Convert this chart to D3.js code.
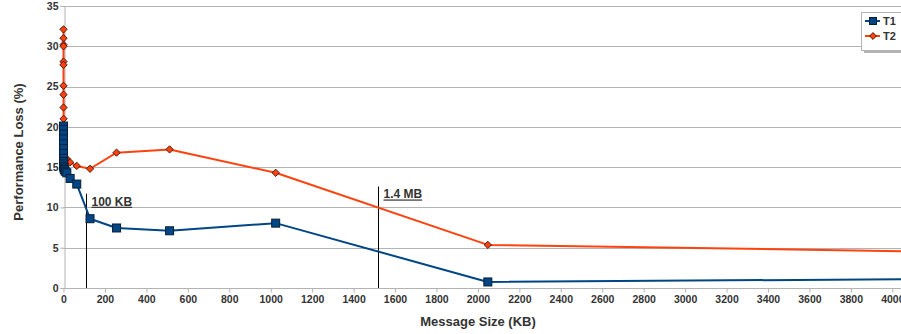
<!DOCTYPE html>
<html>
<head>
<meta charset="utf-8">
<script src="https://cdn.jsdelivr.net/npm/d3@7"></script>
<style>
  html, body { margin: 0; padding: 0; background: #fff; }
  svg { display: block; font-family: "Liberation Sans", Arial, sans-serif; }
</style>
</head>
<body>
<svg id="chart" width="901" height="334"></svg>
<script>
// ---- data ----
const sizesKB = [1/1024, 2/1024, 4/1024, 8/1024, 16/1024, 32/1024, 64/1024, 128/1024, 256/1024, 512/1024,
                 1, 2, 4, 8, 16, 32, 64, 128, 256, 512, 1024, 2048, 4096];
const t1Values = [20.1, 19.7, 19.1, 18.5, 17.9, 17.3, 16.7, 16.1, 15.7, 15.4,
                  15.1, 14.9, 14.7, 14.5, 14.3, 13.6, 12.9, 8.6, 7.45, 7.1, 8.05, 0.75, 1.1];
const t2Values = [32.1, 31.0, 30.2, 30.0, 28.1, 27.7, 25.1, 24.0, 22.4, 21.0,
                  19.5, 18.2, 17.0, 16.2, 16.0, 15.6, 15.15, 14.8, 16.8, 17.2, 14.3, 5.35, 4.55];
const seriesNames = ["T1", "T2"];
const xTicks = d3.range(0, 4001, 200);
const yTicks = [0, 5, 10, 15, 20, 25, 30, 35];
const markerKB = [108, 1516];
const markerLabels = ["100 KB", "1.4 MB"];
const markerTops = [11.7, 12.6];
const xTitle = "Message Size (KB)";
const yTitle = "Performance Loss (%)";

// ---- layout ----
const svg = d3.select("#chart");
const W = 901;
const x = d3.scaleLinear().domain([0, 4096]).range([63.5, 63.5 + 4096 * 0.2072]);
const y = d3.scaleLinear().domain([0, 35]).range([288, 6]);
const colors = { T1: "#004586", T2: "#ff420e" };
const textCol = "#333333";

// gridlines
svg.append("g").selectAll("line").data(yTicks.filter(d => d > 0)).join("line")
  .attr("x1", x(0)).attr("x2", W)
  .attr("y1", d => Math.round(y(d)) + 0.5).attr("y2", d => Math.round(y(d)) + 0.5)
  .attr("stroke", "#b3b3b3").attr("stroke-width", 1);

// axes
const yAxis = d3.axisLeft(y).tickValues(yTicks).tickSize(4).tickPadding(2);
const gy = svg.append("g").attr("transform", `translate(${Math.round(x(0)) + 0.5},0)`).call(yAxis);
gy.select(".domain").attr("stroke", "#b3b3b3");
gy.selectAll(".tick line").attr("stroke", "#b3b3b3");
gy.selectAll(".tick text").attr("fill", textCol).attr("font-size", 10.5).attr("font-weight", "bold")
  .attr("font-family", "Liberation Sans, Arial, sans-serif");

const xAxis = d3.axisBottom(x).tickValues(xTicks).tickSize(4).tickPadding(3).tickFormat(d3.format("d"));
const gx = svg.append("g").attr("transform", `translate(0,${Math.round(y(0)) + 0.5})`).call(xAxis);
gx.select(".domain").attr("stroke", "#b3b3b3").attr("d", `M${x(0)},0H${W}`);
gx.selectAll(".tick line").attr("stroke", "#b3b3b3");
gx.selectAll(".tick text").attr("fill", textCol).attr("font-size", 10.5).attr("font-weight", "bold")
  .attr("font-family", "Liberation Sans, Arial, sans-serif");

// axis titles
svg.append("text").attr("x", 478).attr("y", 326).attr("text-anchor", "middle")
  .attr("font-size", 13).attr("font-weight", "bold").attr("fill", textCol).text(xTitle);
svg.append("text").attr("transform", "translate(23,152) rotate(-90)").attr("text-anchor", "middle")
  .attr("font-size", 13).attr("font-weight", "bold").attr("fill", textCol).text(yTitle);

// vertical annotation lines
markerKB.forEach((kb, i) => {
  const px = Math.round(x(kb)) + 0.5;
  svg.append("line").attr("x1", px).attr("x2", px).attr("y1", y(markerTops[i])).attr("y2", y(0))
    .attr("stroke", "#000").attr("stroke-width", 1);
  svg.append("text").attr("x", px + 5).attr("y", y(markerTops[i]) + 12)
    .attr("font-size", 12).attr("font-weight", "bold").attr("fill", textCol)
    .attr("text-decoration", "underline").text(markerLabels[i]);
});

// series
const dataT1 = sizesKB.map((s, i) => ({ x: s, y: t1Values[i] }));
const dataT2 = sizesKB.map((s, i) => ({ x: s, y: t2Values[i] }));
const line = d3.line().x(d => x(d.x)).y(d => y(d.y));

const plot = svg.append("g");
function drawSeries(data, name, shape) {
  plot.append("path").datum(data).attr("d", line).attr("fill", "none")
    .attr("stroke", colors[name]).attr("stroke-width", 2).attr("stroke-linejoin", "round");
  const g = plot.append("g");
  if (shape === "square") {
    g.selectAll("rect").data(data).join("rect")
      .attr("x", d => x(d.x) - 4).attr("y", d => y(d.y) - 4).attr("width", 8).attr("height", 8)
      .attr("fill", colors[name]).attr("stroke", "#0a1f33").attr("stroke-width", 1);
  } else {
    const sym = d3.symbol().type(d3.symbolDiamond2).size(34);
    g.selectAll("path").data(data).join("path")
      .attr("transform", d => `translate(${x(d.x)},${y(d.y)})`).attr("d", sym)
      .attr("fill", colors[name]).attr("stroke", "#3a1000").attr("stroke-width", 0.9);
  }
}
drawSeries(dataT2, "T2", "diamond");
drawSeries(dataT1, "T1", "square");

// legend
const lg = svg.append("g");
lg.append("rect").attr("x", 864).attr("y", 15).attr("width", 44).attr("height", 38).attr("fill", "#b3b3b3");
lg.append("rect").attr("x", 861.5).attr("y", 12.5).attr("width", 44).attr("height", 38)
  .attr("fill", "#fff").attr("stroke", "#b3b3b3").attr("stroke-width", 1);
seriesNames.forEach((n, i) => {
  const cy = 21 + i * 15;
  lg.append("line").attr("x1", 865).attr("x2", 880).attr("y1", cy).attr("y2", cy)
    .attr("stroke", colors[n]).attr("stroke-width", 2);
  if (n === "T1") {
    lg.append("rect").attr("x", 869.5).attr("y", cy - 3.5).attr("width", 7).attr("height", 7)
      .attr("fill", colors[n]).attr("stroke", "#0a1f33").attr("stroke-width", 1);
  } else {
    lg.append("path").attr("transform", `translate(873,${cy})`)
      .attr("d", d3.symbol().type(d3.symbolDiamond2).size(30))
      .attr("fill", colors[n]).attr("stroke", "#3a1000").attr("stroke-width", 0.9);
  }
  lg.append("text").attr("x", 883).attr("y", cy + 4).attr("font-size", 11).attr("font-weight", "bold")
    .attr("fill", textCol).text(n);
});
</script>
</body>
</html>
